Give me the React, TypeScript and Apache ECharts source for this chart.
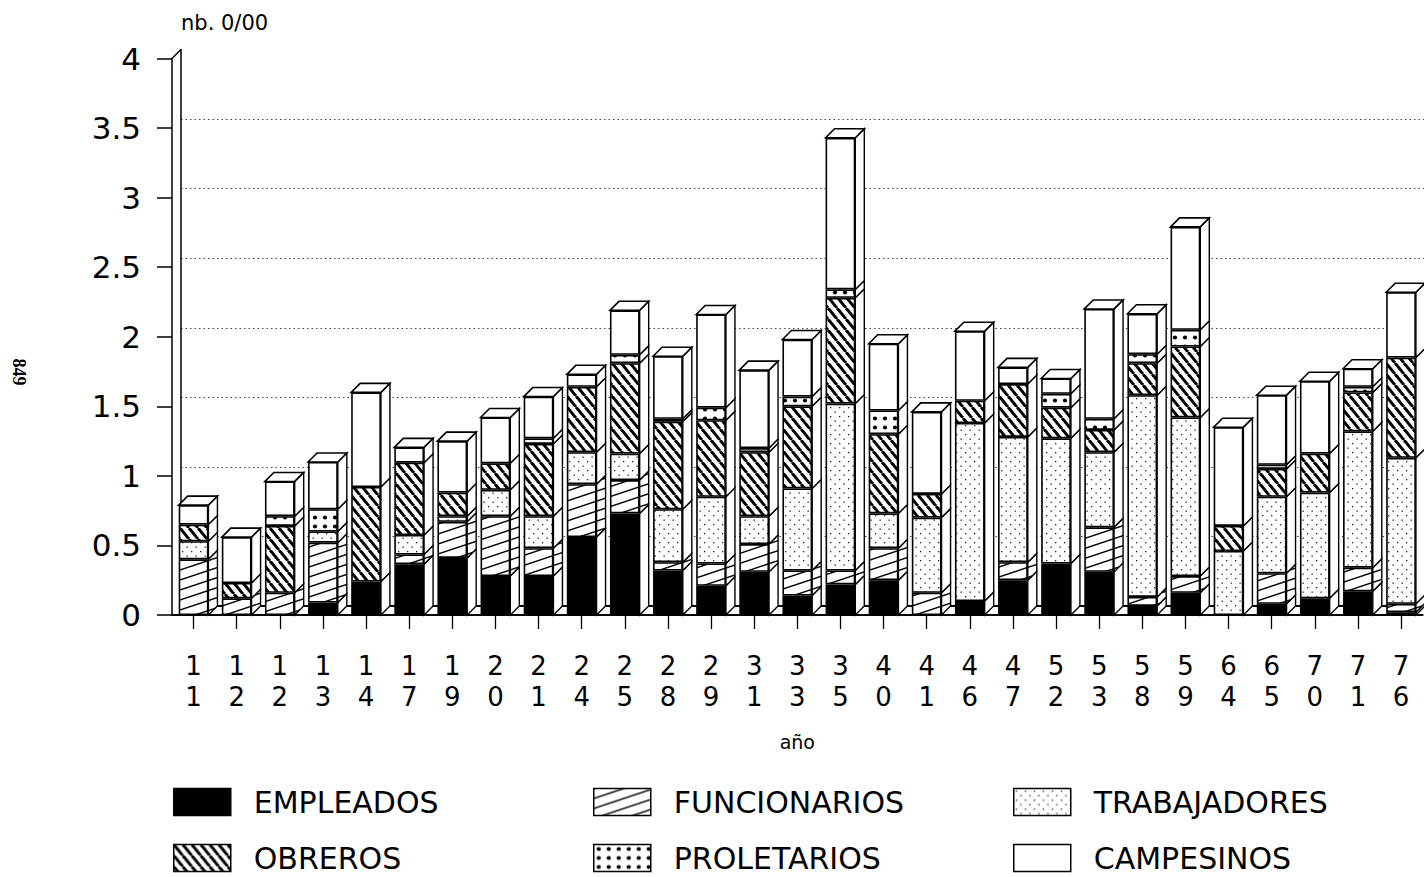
import React, { useEffect, useRef } from 'react';
import * as echarts from 'echarts';

// ---------- data ----------
const years = ['11', '12', '12', '13', '14', '17', '19', '20', '21', '24', '25', '28', '29', '31', '33', '35', '40', '41', '46', '47', '52', '53', '58', '59', '64', '65', '70', '71', '76'];
const empleados =    [0, 0, 0, 0.09, 0.24, 0.365, 0.41, 0.28, 0.28, 0.56, 0.73, 0.32, 0.21, 0.31, 0.14, 0.22, 0.25, 0, 0.10, 0.25, 0.37, 0.31, 0.065, 0.16, 0, 0.08, 0.12, 0.17, 0.02];
const funcionarios = [0.40, 0.12, 0.16, 0.43, 0, 0.07, 0.26, 0.43, 0.20, 0.38, 0.24, 0.06, 0.16, 0.20, 0.18, 0.10, 0.23, 0.16, 0, 0.13, 0, 0.32, 0.065, 0.12, 0, 0.22, 0, 0.17, 0.06];
const trabajadores = [0.13, 0, 0, 0.08, 0, 0.14, 0.04, 0.19, 0.23, 0.23, 0.19, 0.38, 0.48, 0.20, 0.59, 1.20, 0.25, 0.54, 1.28, 0.90, 0.90, 0.54, 1.45, 1.14, 0.46, 0.55, 0.76, 0.98, 1.05];
const obreros =      [0.12, 0.11, 0.48, 0, 0.68, 0.52, 0.17, 0.19, 0.52, 0.47, 0.65, 0.63, 0.55, 0.46, 0.59, 0.76, 0.57, 0.17, 0.16, 0.38, 0.22, 0.16, 0.23, 0.51, 0.18, 0.20, 0.28, 0.28, 0.72];
const proletarios =  [0, 0, 0.07, 0.16, 0, 0, 0, 0, 0.04, 0, 0.06, 0.02, 0.09, 0.03, 0.07, 0.06, 0.17, 0, 0, 0, 0.10, 0.08, 0.065, 0.12, 0, 0.03, 0, 0.04, 0];
const campesinos =   [0.14, 0.33, 0.25, 0.34, 0.68, 0.11, 0.37, 0.33, 0.30, 0.09, 0.32, 0.45, 0.67, 0.56, 0.41, 1.09, 0.48, 0.59, 0.50, 0.12, 0.11, 0.79, 0.29, 0.74, 0.71, 0.50, 0.52, 0.13, 0.47];
const seriesNames = ['EMPLEADOS', 'FUNCIONARIOS', 'TRABAJADORES', 'OBREROS', 'PROLETARIOS', 'CAMPESINOS'];
const seriesValues = [empleados, funcionarios, trabajadores, obreros, proletarios, campesinos];

// ---------- layout / style ----------
const FONT = '"DejaVu Sans", "Liberation Sans", sans-serif';
const D = 9; // 3D depth in px
const BAR_RATIO = 0.69;
const G0 = { left: 172, right: 1.4, top: 58.5, bottom: 262 };

function tile(w: number, h: number, draw: (ctx: CanvasRenderingContext2D, w: number, h: number) => void) {
  const c = document.createElement('canvas');
  c.width = w;
  c.height = h;
  const ctx = c.getContext('2d')!;
  ctx.fillStyle = '#fff';
  ctx.fillRect(0, 0, w, h);
  draw(ctx, w, h);
  return { image: c.toDataURL(), repeat: 'repeat', imageWidth: w, imageHeight: h } as any;
}

function makePatterns() {
  const func = tile(30, 10, (ctx, w, h) => {
    ctx.strokeStyle = '#000';
    ctx.lineWidth = 1.4;
    for (let k = -1; k <= 1; k++) {
      ctx.beginPath();
      ctx.moveTo(0, h + k * h);
      ctx.lineTo(w, k * h);
      ctx.stroke();
    }
  });
  const obr = tile(9, 11, (ctx, w, h) => {
    ctx.strokeStyle = '#000';
    ctx.lineWidth = 3;
    for (let k = -1; k <= 1; k++) {
      ctx.beginPath();
      ctx.moveTo(k * w, 0);
      ctx.lineTo(w + k * w, h);
      ctx.stroke();
    }
  });
  const trab = tile(9, 9, (ctx) => {
    ctx.fillStyle = '#222';
    ctx.fillRect(2, 2, 1.3, 1.3);
    ctx.fillRect(6.5, 6.5, 1.3, 1.3);
  });
  const prol = tile(10, 9, (ctx) => {
    ctx.fillStyle = '#000';
    ctx.beginPath();
    ctx.arc(5, 4.5, 2.1, 0, Math.PI * 2);
    ctx.fill();
  });
  return ['#000', func, trab, obr, prol, '#fff'];
}

export default function App() {
  const ref = useRef<HTMLDivElement>(null);
  useEffect(() => {
    if (!ref.current) return;
    const chart = echarts.init(ref.current, null, { renderer: 'svg' });
    const fills = makePatterns();

    const barSeries = seriesNames.map((name, s) => ({
      type: 'bar',
      name,
      stack: 'total',
      xAxisIndex: 0,
      yAxisIndex: 0,
      barWidth: BAR_RATIO * 100 + '%',
      silent: true,
      z: 3,
      emphasis: { disabled: true },
      itemStyle: { color: fills[s], borderColor: '#000', borderWidth: 1.6 },
      data: seriesValues[s].map((v) => (v > 0 ? v : '-')),
    }));

    const customData = years.map((_, i) => [i, ...seriesValues.map((arr) => arr[i])]);

    const customSeries = {
      type: 'custom',
      xAxisIndex: 0,
      yAxisIndex: 0,
      silent: true,
      z: 4,
      encode: { x: 0, y: 1 },
      data: customData,
      renderItem: (params: any, api: any) => {
        const idx = api.value(0);
        const band = api.size([1, 0])[0];
        const w = band * BAR_RATIO;
        const cx = api.coord([idx, 0])[0];
        const xl = cx - w / 2;
        const xr = cx + w / 2;
        const children: any[] = [];
        let cum = 0;
        for (let k = 1; k <= 6; k++) {
          const v = api.value(k);
          if (!(v > 0)) continue;
          const y0 = api.coord([idx, cum])[1];
          cum += v;
          const y1 = api.coord([idx, cum])[1];
          children.push({
            type: 'polygon',
            shape: { points: [[xr, y0], [xr + D, y0 - D], [xr + D, y1 - D], [xr, y1]] },
            style: { fill: k === 2 ? fills[1] : '#fff', stroke: '#000', lineWidth: 1.4 },
          });
        }
        const yt = api.coord([idx, cum])[1];
        children.push({
          type: 'polygon',
          shape: { points: [[xl, yt], [xl + D, yt - D], [xr + D, yt - D], [xr, yt]] },
          style: { fill: '#fff', stroke: '#000', lineWidth: 1.6 },
        });
        return { type: 'group', children };
      },
    };

    const legendPos = [
      [173, 787], [593, 787], [1013, 787],
      [173, 843], [593, 843], [1013, 843],
    ];

    const option: any = {
      animation: false,
      backgroundColor: '#fff',
      grid: [
        { left: G0.left, right: G0.right, top: G0.top, bottom: G0.bottom },
        { left: G0.left + D, right: G0.right - D, top: G0.top - D, bottom: G0.bottom + D },
      ],
      xAxis: [
        {
          type: 'category',
          gridIndex: 0,
          data: years,
          name: 'año',
          nameLocation: 'middle',
          nameGap: 117,
          nameTextStyle: { fontFamily: FONT, fontSize: 19, color: '#000' },
          axisLine: { show: true, lineStyle: { color: '#000', width: 2 } },
          axisTick: { show: true, alignWithLabel: true, interval: 0, length: 14, lineStyle: { color: '#000', width: 1.3 } },
          axisLabel: {
            interval: 0,
            margin: 35,
            fontFamily: FONT,
            fontSize: 26,
            lineHeight: 31,
            color: '#000',
            formatter: (v: string) => v.split('').join('\n'),
          },
          splitLine: { show: false },
        },
        {
          type: 'category',
          gridIndex: 1,
          data: years,
          position: 'top',
          axisLine: { show: true, lineStyle: { color: '#000', width: 2 } },
          axisTick: { show: false },
          axisLabel: { show: false },
          splitLine: { show: false },
        },
      ],
      yAxis: [
        {
          type: 'value',
          gridIndex: 0,
          min: 0,
          max: 4,
          interval: 0.5,
          axisLine: { show: true, lineStyle: { color: '#000', width: 1.5 } },
          axisTick: { show: true, length: 15, lineStyle: { color: '#000', width: 1.5 } },
          axisLabel: { margin: 31, fontFamily: FONT, fontSize: 31, color: '#000' },
          splitLine: { show: false },
        },
        {
          type: 'value',
          gridIndex: 1,
          min: 0,
          max: 4,
          interval: 0.5,
          name: 'nb. 0/00',
          nameLocation: 'end',
          nameGap: 27,
          nameTextStyle: { fontFamily: FONT, fontSize: 21, color: '#000', align: 'left', verticalAlign: 'middle' },
          axisLine: { show: true, lineStyle: { color: '#000', width: 1.5 } },
          axisTick: { show: false },
          axisLabel: { show: false },
          splitLine: { show: true, showMinLine: false, showMaxLine: false, lineStyle: { color: '#444', width: 1, type: [1.5, 3] } },
        },
      ],
      legend: seriesNames.map((name, i) => ({
        data: [name],
        left: legendPos[i][0],
        top: legendPos[i][1],
        padding: 0,
        itemWidth: 57,
        itemHeight: 27,
        selectedMode: false,
        icon: 'rect',
        itemStyle: { borderColor: '#000', borderWidth: 1.5 },
        textStyle: { fontFamily: FONT, fontSize: 30, color: '#000', padding: [0, 0, 0, 18] },
      })),
      graphic: [
        {
          type: 'line',
          shape: { x1: G0.left, y1: G0.top, x2: G0.left + D, y2: G0.top - D },
          style: { stroke: '#000', lineWidth: 1.5 },
        },
        {
          type: 'text',
          x: 19,
          y: 372,
          rotation: -Math.PI / 2,
          style: { text: '849', font: 'bold 18px "Liberation Serif", serif', fill: '#000', align: 'center', verticalAlign: 'middle' },
        },
      ],
      series: [...barSeries, customSeries],
    };
    chart.setOption(option);
    return () => chart.dispose();
  }, []);
  return (
    <div
      ref={ref}
      style={{ position: 'fixed', left: 0, top: 0, width: 1424, height: 877, background: '#fff' }}
    />
  );
}
